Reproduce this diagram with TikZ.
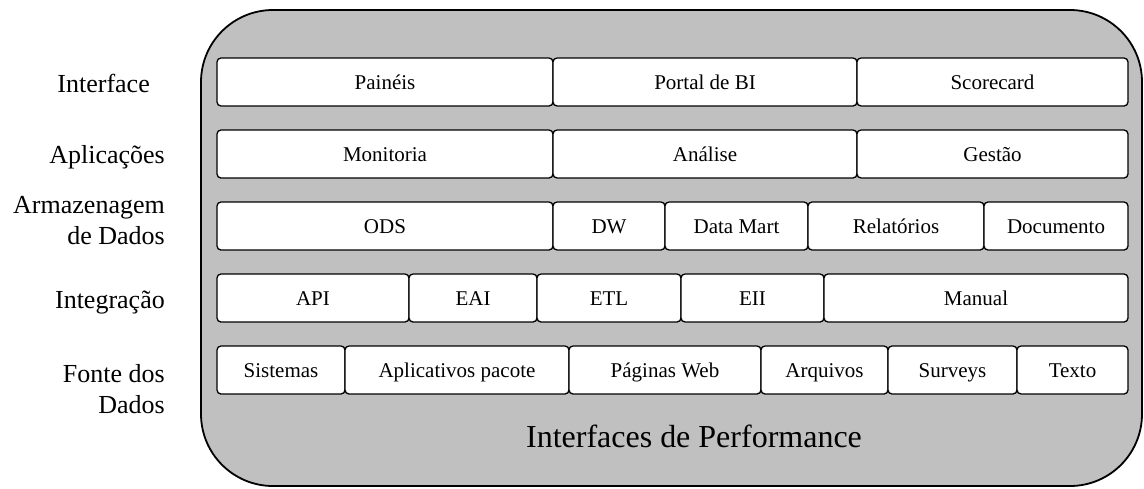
\documentclass[tikz,border=0pt]{standalone}
\usepackage{fontspec}
\setmainfont{Liberation Serif}
\definecolor{panelgray}{HTML}{C0C0C0}
\tikzset{
  cell/.style={draw=black, fill=white, line width=1.3pt, rounded corners=4pt,
    inner sep=0pt, text height=15pt, text depth=1pt,
    font=\fontsize{21}{25}\selectfont},
  layerlabel/.style={inner sep=0pt, align=right, font=\fontsize{26}{31}\selectfont},
}
% \cell{name}{x left}{x right}{y top}{y bottom}{text}
\newcommand{\cell}[6]{%
  \node[cell, minimum width={(#3-#2)*1pt}, minimum height={(#5-#4)*1pt}]
    (#1) at ({(#2+#3)/2},{(#4+#5)/2}) {#6};}
\begin{document}
\begin{tikzpicture}[x=1pt, y=-1pt]
\useasboundingbox (0,0) rectangle (1144,488);

% outer panel
\draw[line width=1.8pt, fill=panelgray, rounded corners=72pt]
  (201,10) rectangle (1142,486);

% layer: interface
\cell{paineis}{217}{553}{58}{106}{Painéis}
\cell{portal}{553}{857}{58}{106}{Portal de BI}
\cell{scorecard}{857}{1128}{58}{106}{Scorecard}

% layer: applications
\cell{monitoria}{217}{553}{130}{178}{Monitoria}
\cell{analise}{553}{857}{130}{178}{Análise}
\cell{gestao}{857}{1128}{130}{178}{Gestão}

% layer: storage
\cell{ods}{217}{553}{202}{250}{ODS}
\cell{dw}{553}{665}{202}{250}{DW}
\cell{datamart}{665}{808}{202}{250}{Data Mart}
\cell{relatorios}{808}{984}{202}{250}{Relatórios}
\cell{documento}{984}{1128}{202}{250}{Documento}

% layer: integration
\cell{api}{217}{409}{274}{322}{API}
\cell{eai}{409}{537}{274}{322}{EAI}
\cell{etl}{537}{681}{274}{322}{ETL}
\cell{eii}{681}{824}{274}{322}{EII}
\cell{manual}{824}{1128}{274}{322}{Manual}

% layer: data sources
\cell{sistemas}{217}{345}{346}{394}{Sistemas}
\cell{aplicativos}{345}{569}{346}{394}{Aplicativos pacote}
\cell{paginas}{569}{761}{346}{394}{Páginas Web}
\cell{arquivos}{761}{888}{346}{394}{Arquivos}
\cell{surveys}{888}{1017}{346}{394}{Surveys}
\cell{texto}{1017}{1128}{346}{394}{Texto}

% panel title
\node[inner sep=0pt, anchor=base, font=\fontsize{32}{38}\selectfont]
  (titulo) at (694,447) {Interfaces de Performance};

% layer names
\node[layerlabel, anchor=base east] (lbl-interface) at (150,92) {Interface};
\node[layerlabel, anchor=base east] (lbl-aplicacoes) at (165,163) {Aplicações};
\node[layerlabel, anchor=east] (lbl-armazenagem) at (165,221) {Armazenagem\\de Dados};
\node[layerlabel, anchor=base east] (lbl-integracao) at (165,308) {Integração};
\node[layerlabel, anchor=east] (lbl-fonte) at (165,389) {Fonte dos\\Dados};
\end{tikzpicture}
\end{document}
